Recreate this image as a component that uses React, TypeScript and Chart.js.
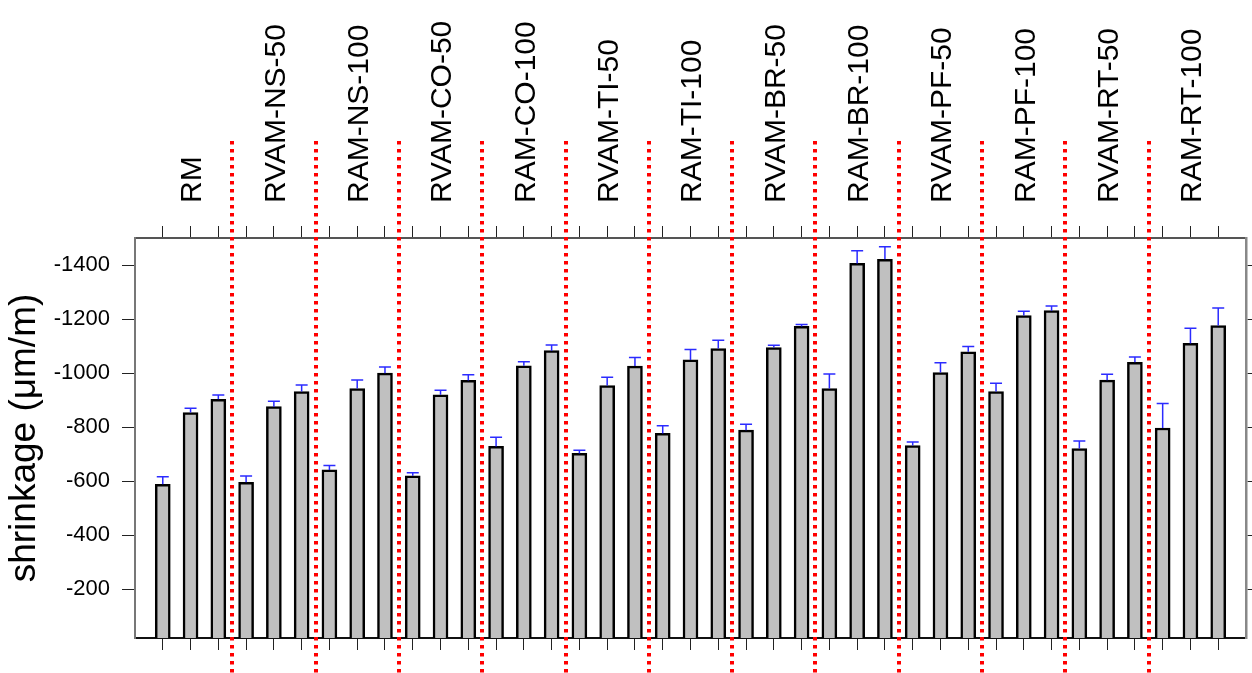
import React, { useEffect, useRef } from 'react';
import { Chart, registerables } from 'chart.js';

Chart.register(...registerables);

const groups = [
  'RM', 'RVAM-NS-50', 'RAM-NS-100', 'RVAM-CO-50', 'RAM-CO-100', 'RVAM-TI-50', 'RAM-TI-100',
  'RVAM-BR-50', 'RAM-BR-100', 'RVAM-PF-50', 'RAM-PF-100', 'RVAM-RT-50', 'RAM-RT-100',
];

const shrinkage = [
  -589, -854, -903,
  -596, -876, -932,
  -642, -943, -1000,
  -620, -920, -973,
  -729, -1027, -1083,
  -703, -954, -1026,
  -777, -1049, -1091,
  -789, -1095, -1173,
  -943, -1406, -1421,
  -732, -1002, -1079,
  -932, -1213, -1231,
  -721, -974, -1040,
  -797, -1110, -1176,
];

const errors = [
  28, 16, 16,
  23, 20, 24,
  16, 32, 23,
  11, 17, 21,
  34, 15, 21,
  12, 31, 32,
  28, 38, 31,
  22, 8, 7,
  54, 47, 47,
  13, 36, 20,
  31, 16, 17,
  28, 22, 20,
  91, 56, 65,
];

const yTicks = [-1400, -1200, -1000, -800, -600, -400, -200];
const Y_MIN = -1500;
const Y_MAX = -20;
const PER_GROUP = 3;

const barPositions = shrinkage.map((_, i) => i + 1);
const X_MIN = 0;
const X_MAX = shrinkage.length + 1;

const FONT = '"Liberation Sans", Arial, sans-serif';

const overlayPlugin = {
  id: 'overlay',
  afterDatasetsDraw(chart: any) {
    const { ctx, chartArea } = chart;
    const xs = chart.scales.x;
    const ys = chart.scales.y;
    ctx.save();
    // error bars
    ctx.strokeStyle = 'rgba(20,20,255,0.9)';
    ctx.lineWidth = 1.5;
    shrinkage.forEach((v, i) => {
      const px = xs.getPixelForValue(barPositions[i]);
      const p0 = ys.getPixelForValue(v);
      const p1 = ys.getPixelForValue(v - errors[i]);
      ctx.beginPath();
      ctx.moveTo(px, p0);
      ctx.lineTo(px, p1);
      ctx.moveTo(px - 6, p1);
      ctx.lineTo(px + 6, p1);
      ctx.stroke();
    });
    // dividers
    ctx.strokeStyle = '#ff0000';
    ctx.lineWidth = 4;
    ctx.setLineDash([3.5, 4.5]);
    for (let g = 1; g < groups.length; g++) {
      const px = Math.round(xs.getPixelForValue(g * PER_GROUP + 0.5));
      ctx.beginPath();
      ctx.moveTo(px, chartArea.top - 97);
      ctx.lineTo(px, chart.height);
      ctx.stroke();
    }
    ctx.setLineDash([]);
    // group labels
    ctx.fillStyle = '#000';
    ctx.font = `30px ${FONT}`;
    ctx.textAlign = 'left';
    ctx.textBaseline = 'alphabetic';
    groups.forEach((g, gi) => {
      const cx = xs.getPixelForValue(gi * PER_GROUP + 2);
      ctx.save();
      ctx.translate(cx + 10.7, chartArea.top - 35);
      ctx.rotate(-Math.PI / 2);
      ctx.fillText(g, 0, 0);
      ctx.restore();
    });
    ctx.restore();
  },
};

export default function App() {
  const ref = useRef<HTMLCanvasElement>(null);

  useEffect(() => {
    if (!ref.current) return;
    Chart.defaults.font.family = FONT;
    Chart.defaults.color = '#000';
    const setXTicks = (s: any) => {
      s.ticks = barPositions.map((v) => ({ value: v }));
    };
    const setYTicks = (s: any) => {
      s.ticks = yTicks.map((v) => ({ value: v }));
    };
    const chart = new Chart(ref.current, {
      type: 'bar',
      data: {
        datasets: [
          {
            data: shrinkage.map((v, i) => ({ x: barPositions[i], y: v })),
            backgroundColor: '#c0c0c0',
            borderColor: '#000',
            borderWidth: 2.5,
            borderSkipped: false,
            barThickness: 15,
            clip: 0,
            xAxisID: 'x',
            yAxisID: 'y',
          } as any,
        ],
      },
      options: {
        animation: false,
        responsive: false,
        devicePixelRatio: 1,
        layout: { padding: 0 },
        plugins: { legend: { display: false }, tooltip: { enabled: false } },
        scales: {
          x: {
            type: 'linear',
            position: 'bottom',
            offset: false,
            min: X_MIN,
            max: X_MAX,
            z: 1,
            afterBuildTicks: setXTicks,
            afterFit: (s: any) => { s.height = 35; },
            ticks: { display: false },
            grid: { offset: false, drawOnChartArea: false, drawTicks: true, tickLength: 12, color: '#222', lineWidth: 1 },
            border: { display: true, color: '#111', width: 2 },
          },
          x2: {
            type: 'linear',
            position: 'top',
            offset: false,
            min: X_MIN,
            max: X_MAX,
            z: 1,
            afterBuildTicks: setXTicks,
            afterFit: (s: any) => { s.height = 238; },
            ticks: { display: false },
            grid: { offset: false, drawOnChartArea: false, drawTicks: true, tickLength: 12, color: '#222', lineWidth: 1 },
            border: { display: true, color: '#555', width: 2 },
          },
          y: {
            type: 'linear',
            position: 'left',
            min: Y_MIN,
            max: Y_MAX,
            reverse: true,
            z: 1,
            afterBuildTicks: setYTicks,
            afterFit: (s: any) => { s.width = 135; },
            ticks: {
              font: { size: 22 },
              padding: 12,
              color: '#000',
              callback: (v: any) => String(v),
            },
            grid: { drawOnChartArea: false, drawTicks: true, tickLength: 13, color: '#222', lineWidth: 1 },
            border: { display: true, color: '#777', width: 2 },
            title: {
              display: true,
              text: 'shrinkage (μm/m)',
              font: { size: 37 },
              color: '#000',
              padding: { top: 3, bottom: 0 },
            },
          },
          y2: {
            type: 'linear',
            position: 'right',
            min: Y_MIN,
            max: Y_MAX,
            reverse: true,
            z: 1,
            afterBuildTicks: setYTicks,
            afterFit: (s: any) => { s.width = 6; },
            ticks: { display: false },
            grid: { drawOnChartArea: false, drawTicks: true, tickLength: 6, color: '#222', lineWidth: 1 },
            border: { display: true, color: '#888', width: 2.5 },
          },
        },
      } as any,
      plugins: [overlayPlugin],
    });
    return () => chart.destroy();
  }, []);

  return (
    <div style={{ position: 'fixed', left: 0, top: 0, width: 1252, height: 673, background: '#fff' }}>
      <canvas ref={ref} width={1252} height={673} style={{ display: 'block' }} />
    </div>
  );
}
